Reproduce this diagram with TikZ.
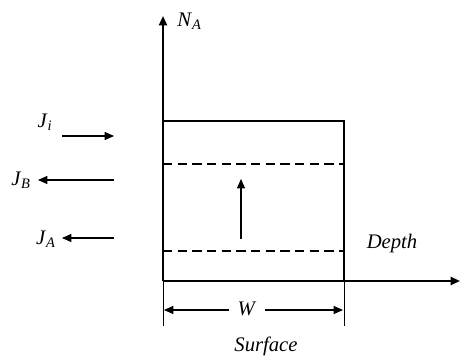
\documentclass[tikz,border=0pt]{standalone}
\usepackage{fontspec}
\setmainfont{Liberation Serif}
\usetikzlibrary{arrows.meta}
\newcommand{\flux}[1]{\textit{J}\textsubscript{\textit{#1}}}

\begin{document}
\begin{tikzpicture}[x=0.75pt,y=-0.75pt,font=\fontsize{15.5}{18}\selectfont,
    >={Triangle[length=7pt,width=6pt]},
    axis/.style={line width=1.5pt,->},
    flow/.style={line width=0.8pt,->}]
    \useasboundingbox (0,0) rectangle (460,356);
    % axes
    \coordinate (O) at (163,281);
    \coordinate (ytop) at (163,16);
    \coordinate (xend) at (460,281);
    \draw[axis] (O) -- (ytop);
    \draw[axis] (O) -- (xend);
    \node[anchor=west,inner sep=0pt] (NA) at (177,21) {\textit{N}\textsubscript{\textit{A}}};
    \node (depth) at (392,244) {\textit{Depth}};
    % layer
    \coordinate (tl) at (163,121);
    \coordinate (tr) at (344,121);
    \coordinate (br) at (344,281);
    \draw[line width=1.5pt] (tl) -- (tr) -- (br);
    \draw[dashed,line width=0.9pt,dash pattern=on 7pt off 4pt] (163,164) -- (344,164);
    \draw[dashed,line width=0.9pt,dash pattern=on 7pt off 4pt] (163,251) -- (344,251);
    \coordinate (up0) at (241,239);
    \coordinate (up1) at (241,179);
    \draw[flow] (up0) -- (up1);
    % fluxes
    \node (Ji) at (45,122) {\flux{i}};
    \node (JB) at (21,180) {\flux{B}};
    \node (JA) at (46,239) {\flux{A}};
    \coordinate (Ji0) at (62,136);  \coordinate (Ji1) at (114,136);
    \coordinate (JB0) at (114,180); \coordinate (JB1) at (38,180);
    \coordinate (JA0) at (114,238); \coordinate (JA1) at (62,238);
    \draw[flow] (Ji0) -- (Ji1);
    \draw[flow] (JB0) -- (JB1);
    \draw[flow] (JA0) -- (JA1);
    % width
    \draw[line width=0.6pt] (163,281) -- (163,326);
    \draw[line width=0.6pt] (344,281) -- (344,326);
    \node (W) at (247,309) {\textit{W}};
    \coordinate (Wl) at (164,310); \coordinate (Wr) at (343,310);
    \draw[flow] (229,310) -- (Wl);
    \draw[flow] (265,310) -- (Wr);
    \node (surf) at (266,346) {\textit{Surface}};
\end{tikzpicture}
\end{document}
